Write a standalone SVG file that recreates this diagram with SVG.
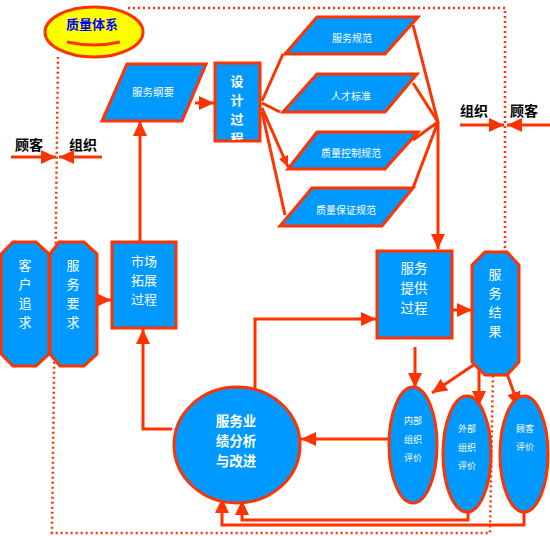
<svg xmlns="http://www.w3.org/2000/svg" width="550" height="536" viewBox="0 0 550 536">
<style>
.sh{fill:#0099FF;stroke:#FF3300;stroke-width:3}
.ln{fill:none;stroke:#FF3300;stroke-width:3}
.dot{fill:none;stroke:#FF3300;stroke-width:2.5;stroke-dasharray:2 3}
.t{fill:#FFFFFF;font-family:"Noto Sans CJK SC","Noto Sans",sans-serif;text-anchor:middle;dominant-baseline:central}
.lb{fill:#000000;font-family:"Noto Sans CJK SC",sans-serif;font-weight:bold;font-size:14px;text-anchor:middle;dominant-baseline:central}
</style>
<defs>
<marker id="ar" markerUnits="userSpaceOnUse" markerWidth="16" markerHeight="14" refX="15" refY="7" orient="auto">
<path d="M0,0 L15,7 L0,14 Z" fill="#FF3300"/>
</marker>
<marker id="ars" markerUnits="userSpaceOnUse" markerWidth="12" markerHeight="10" refX="11" refY="5" orient="auto">
<path d="M0,0 L11,5 L0,10 Z" fill="#FF3300"/>
</marker>
<clipPath id="cp"><rect x="216" y="64" width="43" height="76"/></clipPath>
</defs>
<g id="boundary">
<path class="dot" d="M128,8 L505,8 L505,255 L493,372 L490,533 L52,533 L58,57"/>
</g>
<g id="connectors">
<line class="ln" x1="195" y1="103" x2="214" y2="103" marker-end="url(#ar)"/>
<line class="ln" x1="140" y1="242" x2="140" y2="121" marker-end="url(#ar)"/>
<line class="ln" x1="97" y1="300" x2="111" y2="300" marker-end="url(#ar)"/>
<polyline class="ln" points="172,429 143,429 143,329" marker-end="url(#ar)"/>
<polyline class="ln" points="255,390 255,319 376,319" marker-end="url(#ar)"/>
<line class="ln" x1="262" y1="101" x2="283" y2="54"/>
<line class="ln" x1="262" y1="103" x2="280" y2="112"/>
<line class="ln" x1="262" y1="108" x2="288" y2="167" marker-end="url(#ars)"/>
<line class="ln" x1="262" y1="112" x2="285" y2="215"/>
<line class="ln" x1="413" y1="25" x2="438" y2="122"/>
<line class="ln" x1="413" y1="83" x2="438" y2="122"/>
<line class="ln" x1="413" y1="140" x2="438" y2="122"/>
<line class="ln" x1="413" y1="188" x2="438" y2="122"/>
<line class="ln" x1="438" y1="122" x2="438" y2="249" marker-end="url(#ar)"/>
<line class="ln" x1="452" y1="310" x2="472" y2="310" marker-end="url(#ar)"/>
<line class="ln" x1="415" y1="347" x2="415" y2="388" marker-end="url(#ar)"/>
<line class="ln" x1="475" y1="364" x2="432" y2="393" marker-end="url(#ar)"/>
<line class="ln" x1="479" y1="368" x2="479" y2="406" marker-end="url(#ar)"/>
<line class="ln" x1="505" y1="368" x2="519" y2="407" marker-end="url(#ar)"/>
<line class="ln" x1="389" y1="439" x2="301" y2="439" marker-end="url(#ar)"/>
<polyline class="ln" points="468,512 468,520 242,520 242,500" marker-end="url(#ar)"/>
<polyline class="ln" points="524,512 524,525 222,525 222,498" marker-end="url(#ar)"/>
<line class="ln" x1="11" y1="157" x2="56" y2="157" marker-end="url(#ar)"/>
<line class="ln" x1="102" y1="157" x2="59" y2="157" marker-end="url(#ar)"/>
<line class="ln" x1="460" y1="125" x2="504" y2="125" marker-end="url(#ar)"/>
<line class="ln" x1="550" y1="125" x2="507" y2="125" marker-end="url(#ar)"/>
</g>
<g id="quality">
<ellipse cx="94" cy="32" rx="49" ry="25" fill="#FFFF00" stroke="#FF3300" stroke-width="3"/>
<path d="M67,42 Q94,48 120,42" fill="none" stroke="#FF3300" stroke-width="3"/>
<text x="92" y="23" class="t" style="fill:#0000FF;font-size:13px;font-weight:bold">质量体系</text>
</g>
<g id="gangyao">
<polygon class="sh" points="127,64 206,64 182,121 102,121"/>
<text x="153" y="91" class="t" font-size="10.5">服务纲要</text>
</g>
<g id="sheji">
<rect class="sh" x="215" y="63" width="45" height="78"/>
<g clip-path="url(#cp)" class="t" style="font-size:13px;font-weight:bold">
<text x="237" y="80">设</text>
<text x="237" y="99">计</text>
<text x="237" y="118">过</text>
<text x="237" y="137">程</text>
</g>
</g>
<g id="guifan">
<polygon class="sh" points="317,17 418,17 385,54 285,54"/>
<text x="352" y="37" class="t" font-size="10">服务规范</text>
</g>
<g id="rencai">
<polygon class="sh" points="317,74 417,74 385,112 283,112"/>
<text x="351" y="95" class="t" font-size="10">人才标准</text>
</g>
<g id="kongzhi">
<polygon class="sh" points="317,132 418,132 385,169 288,169"/>
<text x="351" y="152" class="t" font-size="10">质量控制规范</text>
</g>
<g id="baozheng">
<polygon class="sh" points="312,188 413,188 382,226 280,226"/>
<text x="346" y="209" class="t" font-size="10">质量保证规范</text>
</g>
<g id="kehu">
<polygon class="sh" points="13,242 36,242 49,254 49,354 36,366 13,366 1,354 1,254"/>
<g class="t" font-size="13"><text x="25" y="264">客</text><text x="25" y="283">户</text><text x="25" y="302">追</text><text x="25" y="321">求</text></g>
</g>
<g id="yaoqiu">
<polygon class="sh" points="59,242 84,242 97,254 97,354 84,366 60,366 50,354 50,254"/>
<g class="t" font-size="13"><text x="73" y="264">服</text><text x="73" y="283">务</text><text x="73" y="302">要</text><text x="73" y="321">求</text></g>
</g>
<g id="shichang">
<rect class="sh" x="112" y="242" width="64" height="86"/>
<g class="t" font-size="13"><text x="144" y="260">市场</text><text x="144" y="279">拓展</text><text x="144" y="298">过程</text></g>
</g>
<g id="tigong">
<rect class="sh" x="377" y="251" width="75" height="87"/>
<g class="t" font-size="13.5"><text x="414" y="267">服务</text><text x="414" y="287">提供</text><text x="414" y="307">过程</text></g>
</g>
<g id="jieguo">
<polygon class="sh" points="485,252 507,252 519,265 519,362 507,375 485,375 472,362 472,265"/>
<g class="t" font-size="13"><text x="495" y="273">服</text><text x="495" y="292">务</text><text x="495" y="311">结</text><text x="495" y="330">果</text></g>
</g>
<g id="fenxi">
<ellipse class="sh" cx="237" cy="445" rx="63" ry="58"/>
<g class="t" font-size="13.5" font-weight="bold"><text x="236" y="420">服务业</text><text x="236" y="440">绩分析</text><text x="236" y="460">与改进</text></g>
</g>
<g id="neibu">
<ellipse class="sh" cx="413" cy="445" rx="24" ry="58"/>
<g class="t" font-size="9"><text x="413" y="420">内部</text><text x="413" y="439">组织</text><text x="413" y="457">评价</text></g>
</g>
<g id="waibu">
<ellipse class="sh" cx="467" cy="454" rx="24" ry="58"/>
<g class="t" font-size="9"><text x="467" y="428">外部</text><text x="467" y="447">组织</text><text x="467" y="465">评价</text></g>
</g>
<g id="guke">
<ellipse class="sh" cx="524" cy="454" rx="24" ry="58"/>
<g class="t" font-size="9"><text x="525" y="428">顾客</text><text x="525" y="446">评价</text></g>
</g>
<g id="labels">
<text x="29" y="144" class="lb">顾客</text>
<text x="83" y="144" class="lb">组织</text>
<text x="474" y="110" class="lb">组织</text>
<text x="524" y="110" class="lb">顾客</text>
</g>
</svg>
